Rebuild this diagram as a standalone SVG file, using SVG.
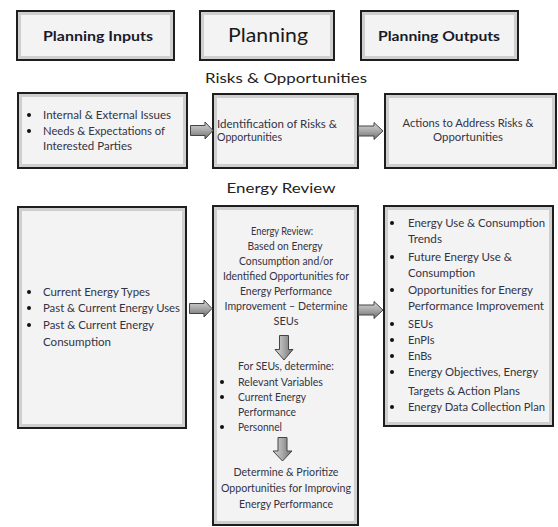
<svg xmlns="http://www.w3.org/2000/svg" width="558" height="527" viewBox="0 0 558 527">
  <defs>
    <linearGradient id="arrowFillH" x1="0" y1="0" x2="0" y2="1">
      <stop offset="0" stop-color="#d8d8d8"/>
      <stop offset="0.5" stop-color="#a8a8a8"/>
      <stop offset="1" stop-color="#6e6e6e"/>
    </linearGradient>
    <linearGradient id="arrowFillV" x1="0" y1="0" x2="1" y2="0">
      <stop offset="0" stop-color="#d8d8d8"/>
      <stop offset="0.5" stop-color="#a8a8a8"/>
      <stop offset="1" stop-color="#6e6e6e"/>
    </linearGradient>
  </defs>
  <style>
    .box { fill: #f3f3f3; stroke: #1e1e1e; stroke-width: 2; }
    .inner { fill: none; stroke: #cfcfcf; stroke-width: 3; }
    .hdr { font-family: Lato, "Liberation Sans", sans-serif; font-size: 13px; font-weight: bold; fill: #1a1a2a; text-anchor: middle; }
    .hdr-big { font-family: Lato, "Liberation Sans", sans-serif; font-size: 19px; fill: #1a1a1a; text-anchor: middle; }
    .section { font-family: Lato, "Liberation Sans", sans-serif; font-size: 14px; fill: #222; text-anchor: middle; }
    .t { font-family: Lato, "Liberation Sans", sans-serif; font-size: 11px; fill: #333344; }
    .c { text-anchor: middle; }
    .dot { fill: #111; }
    .arrow { fill: url(#arrowFillH); stroke: #444; stroke-width: 1; }
    .arrow-v { fill: url(#arrowFillV); stroke: #444; stroke-width: 1; }
  </style>

  <!-- header row -->
  <g id="hdr-inputs">
    <rect class="box" x="17" y="11" width="157" height="49"/>
    <rect class="inner" x="19.5" y="13.5" width="152" height="44"/>
    <text class="hdr" x="98" y="41" textLength="110" lengthAdjust="spacingAndGlyphs">Planning Inputs</text>
  </g>
  <g id="hdr-planning">
    <rect class="box" x="200" y="11" width="134" height="49"/>
    <rect class="inner" x="202.5" y="13.5" width="129" height="44"/>
    <text class="hdr-big" x="268" y="42" textLength="80" lengthAdjust="spacingAndGlyphs">Planning</text>
  </g>
  <g id="hdr-outputs">
    <rect class="box" x="361" y="11" width="157" height="49"/>
    <rect class="inner" x="363.5" y="13.5" width="152" height="44"/>
    <text class="hdr" x="439" y="41" textLength="122" lengthAdjust="spacingAndGlyphs">Planning Outputs</text>
  </g>

  <!-- section labels -->
  <text class="section" x="286" y="83" textLength="162" lengthAdjust="spacingAndGlyphs">Risks &amp; Opportunities</text>
  <text class="section" x="281" y="193" textLength="109" lengthAdjust="spacingAndGlyphs">Energy Review</text>

  <!-- risks & opportunities row -->
  <g id="ro-inputs">
    <rect class="box" x="18" y="93" width="169" height="75"/>
    <rect class="inner" x="20.5" y="95.5" width="164" height="70"/>
    <circle class="dot" cx="29" cy="115" r="2"/>
    <circle class="dot" cx="29" cy="131" r="2"/>
    <text class="t" x="43" y="119" textLength="128" lengthAdjust="spacingAndGlyphs">Internal &amp; External Issues</text>
    <text class="t" x="43" y="135" textLength="122" lengthAdjust="spacingAndGlyphs">Needs &amp; Expectations of</text>
    <text class="t" x="43" y="150" textLength="89" lengthAdjust="spacingAndGlyphs">Interested Parties</text>
  </g>
  <g id="ro-identify">
    <rect class="box" x="213" y="94" width="145" height="74"/>
    <rect class="inner" x="215.5" y="96.5" width="140" height="69"/>
    <text class="t" x="217" y="128" textLength="120" lengthAdjust="spacingAndGlyphs">Identification of Risks &amp;</text>
    <text class="t" x="217" y="141" textLength="65" lengthAdjust="spacingAndGlyphs">Opportunities</text>
  </g>
  <g id="ro-actions">
    <rect class="box" x="385" y="94" width="171" height="74"/>
    <rect class="inner" x="387.5" y="96.5" width="166" height="69"/>
    <text class="t c" x="468" y="127" textLength="131" lengthAdjust="spacingAndGlyphs">Actions to Address Risks &amp;</text>
    <text class="t c" x="468" y="141" textLength="70" lengthAdjust="spacingAndGlyphs">Opportunities</text>
  </g>

  <!-- energy review row -->
  <g id="er-inputs">
    <rect class="box" x="18" y="207" width="168" height="221"/>
    <rect class="inner" x="20.5" y="209.5" width="163" height="216"/>
    <circle class="dot" cx="29" cy="292" r="2"/>
    <circle class="dot" cx="29" cy="308" r="2"/>
    <circle class="dot" cx="29" cy="325" r="2"/>
    <text class="t" x="43" y="296" textLength="107" lengthAdjust="spacingAndGlyphs">Current Energy Types</text>
    <text class="t" x="43" y="312" textLength="137" lengthAdjust="spacingAndGlyphs">Past &amp; Current Energy Uses</text>
    <text class="t" x="43" y="329" textLength="111" lengthAdjust="spacingAndGlyphs">Past &amp; Current Energy</text>
    <text class="t" x="43" y="346" textLength="68" lengthAdjust="spacingAndGlyphs">Consumption</text>
  </g>

  <g id="er-review">
    <rect class="box" x="213" y="206" width="145" height="319"/>
    <rect class="inner" x="215.5" y="208.5" width="140" height="314"/>
    <text class="t c" x="282" y="235" textLength="62" lengthAdjust="spacingAndGlyphs">Energy Review:</text>
    <text class="t c" x="285" y="250" textLength="75" lengthAdjust="spacingAndGlyphs">Based on Energy</text>
    <text class="t c" x="286" y="265" textLength="94" lengthAdjust="spacingAndGlyphs">Consumption and/or</text>
    <text class="t c" x="286" y="280" textLength="126" lengthAdjust="spacingAndGlyphs">Identified Opportunities for</text>
    <text class="t c" x="286" y="295" textLength="92" lengthAdjust="spacingAndGlyphs">Energy Performance</text>
    <text class="t c" x="286" y="310" textLength="123" lengthAdjust="spacingAndGlyphs">Improvement – Determine</text>
    <text class="t c" x="286" y="325">SEUs</text>
    <path class="arrow-v" d="M279.5,335.5 H288.5 V349.5 H293 L284,360 L275,349.5 H279.5 Z"/>
    <text class="t c" x="286" y="370" textLength="96" lengthAdjust="spacingAndGlyphs">For SEUs, determine:</text>
    <circle class="dot" cx="222" cy="382" r="2"/>
    <circle class="dot" cx="222" cy="397" r="2"/>
    <circle class="dot" cx="222" cy="427" r="2"/>
    <text class="t" x="238" y="386" textLength="85" lengthAdjust="spacingAndGlyphs">Relevant Variables</text>
    <text class="t" x="238" y="401" textLength="68" lengthAdjust="spacingAndGlyphs">Current Energy</text>
    <text class="t" x="238" y="416" textLength="58" lengthAdjust="spacingAndGlyphs">Performance</text>
    <text class="t" x="238" y="431" textLength="44" lengthAdjust="spacingAndGlyphs">Personnel</text>
    <path class="arrow-v" d="M278,437.5 H287 V451 H292 L282.5,461 L273,451 H278 Z"/>
    <text class="t c" x="286" y="476" textLength="105" lengthAdjust="spacingAndGlyphs">Determine &amp; Prioritize</text>
    <text class="t c" x="286" y="492" textLength="130" lengthAdjust="spacingAndGlyphs">Opportunities for Improving</text>
    <text class="t c" x="286" y="508" textLength="94" lengthAdjust="spacingAndGlyphs">Energy Performance</text>
  </g>

  <g id="er-outputs">
    <rect class="box" x="384" y="206" width="169" height="220"/>
    <rect class="inner" x="386.5" y="208.5" width="164" height="215"/>
    <circle class="dot" cx="392" cy="223" r="2"/>
    <circle class="dot" cx="392" cy="257" r="2"/>
    <circle class="dot" cx="392" cy="290" r="2"/>
    <circle class="dot" cx="392" cy="324" r="2"/>
    <circle class="dot" cx="392" cy="340" r="2"/>
    <circle class="dot" cx="392" cy="356" r="2"/>
    <circle class="dot" cx="392" cy="372" r="2"/>
    <circle class="dot" cx="392" cy="407" r="2"/>
    <text class="t" x="408" y="227" textLength="137" lengthAdjust="spacingAndGlyphs">Energy Use &amp; Consumption</text>
    <text class="t" x="408" y="243" textLength="34" lengthAdjust="spacingAndGlyphs">Trends</text>
    <text class="t" x="408" y="261" textLength="104" lengthAdjust="spacingAndGlyphs">Future Energy Use &amp;</text>
    <text class="t" x="408" y="277" textLength="67" lengthAdjust="spacingAndGlyphs">Consumption</text>
    <text class="t" x="408" y="294" textLength="125" lengthAdjust="spacingAndGlyphs">Opportunities for Energy</text>
    <text class="t" x="408" y="310" textLength="136" lengthAdjust="spacingAndGlyphs">Performance Improvement</text>
    <text class="t" x="408" y="328">SEUs</text>
    <text class="t" x="408" y="344">EnPIs</text>
    <text class="t" x="408" y="360">EnBs</text>
    <text class="t" x="408" y="376" textLength="130" lengthAdjust="spacingAndGlyphs">Energy Objectives, Energy</text>
    <text class="t" x="408" y="395" textLength="112" lengthAdjust="spacingAndGlyphs">Targets &amp; Action Plans</text>
    <text class="t" x="408" y="411" textLength="137" lengthAdjust="spacingAndGlyphs">Energy Data Collection Plan</text>
  </g>

  <!-- connectors: block arrows between columns -->
  <g id="connectors">
    <path class="arrow" d="M190.5,125.5 H205 V122 L213,130.5 L205,139 V135.5 H190.5 Z"/>
    <path class="arrow" d="M358.5,126 H374 V122.5 L383,131 L374,139.5 V136 H358.5 Z"/>
    <path class="arrow" d="M189.5,303.5 H204 V300 L212,308.5 L204,317 V313.5 H189.5 Z"/>
    <path class="arrow" d="M358.5,305 H374 V301.5 L383,310 L374,318.5 V315 H358.5 Z"/>
  </g>
</svg>
